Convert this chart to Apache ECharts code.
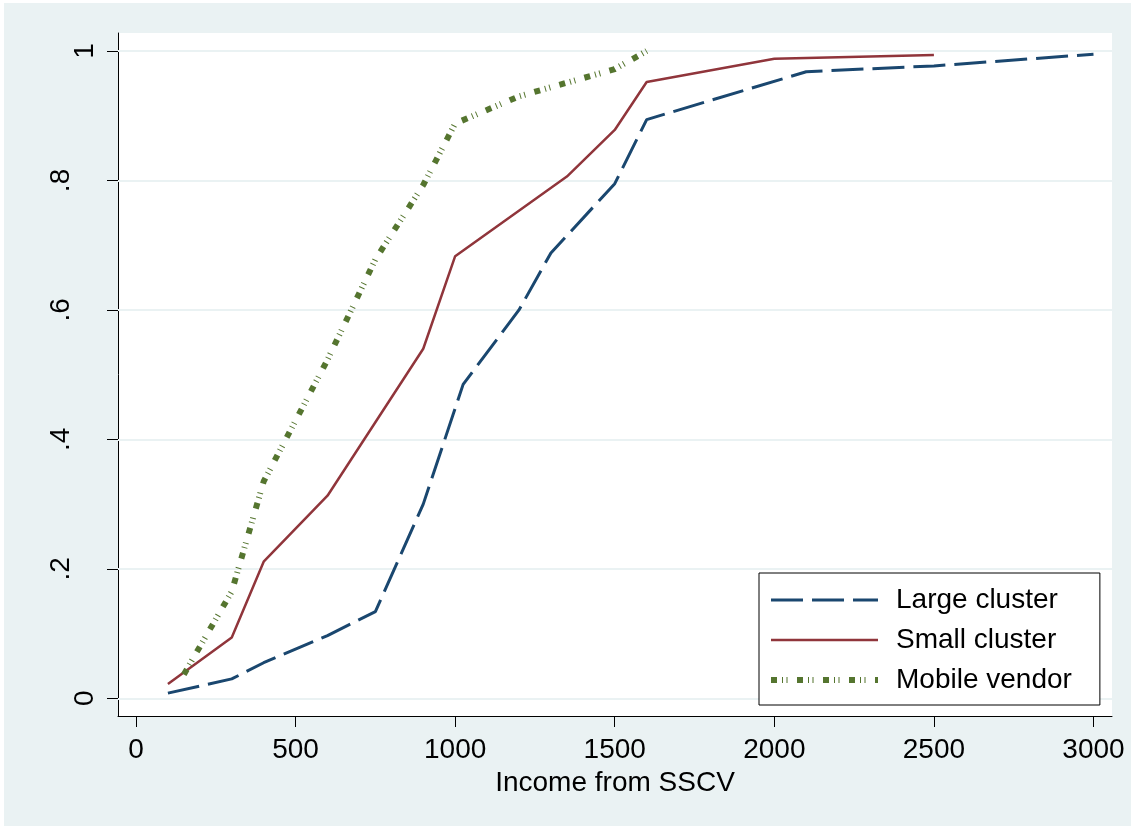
<!DOCTYPE html>
<html>
<head>
<meta charset="utf-8">
<script src="https://cdn.jsdelivr.net/npm/echarts@6/dist/echarts.min.js"></script>
<style>html,body{margin:0;padding:0;background:#fff}#c{width:1131px;height:826px}</style>
</head>
<body>
<div id="c"></div>
<script>
// ---- data ----
const seriesNames = ['Large cluster', 'Small cluster', 'Mobile vendor'];
const largeX = [100, 300, 400, 600, 750, 900, 1025, 1200, 1300, 1500, 1600, 2100, 2500, 3000];
const largeY = [0.008, 0.030, 0.055, 0.097, 0.134, 0.300, 0.485, 0.600, 0.688, 0.795, 0.894, 0.968, 0.977, 0.995];
const smallX = [100, 300, 400, 600, 900, 1000, 1350, 1500, 1600, 2000, 2500];
const smallY = [0.022, 0.094, 0.211, 0.313, 0.540, 0.683, 0.806, 0.878, 0.952, 0.988, 0.994];
const vendorX = [150, 300, 400, 600, 750, 900, 1000, 1200, 1500, 1600];
const vendorY = [0.037, 0.165, 0.335, 0.523, 0.678, 0.793, 0.888, 0.930, 0.972, 1.000];
const xTickValues = [0, 500, 1000, 1500, 2000, 2500, 3000];
const yTickValues = [0, 0.2, 0.4, 0.6, 0.8, 1];
const yTickLabels = ['0', '.2', '.4', '.6', '.8', '1'];
const xTitle = 'Income from SSCV';

const zip = (xs, ys) => xs.map((x, i) => [x, ys[i]]);
const yLabel = v => { const i = yTickValues.findIndex(t => Math.abs(t - v) < 1e-9); return i >= 0 ? yTickLabels[i] : ''; };
const FONT = '"Liberation Sans", Arial, sans-serif';
const BG = '#EAF2F3';
const yOuter = [yTickValues[0], yTickValues[yTickValues.length - 1]];
const yInner = yTickValues.slice(1, -1);

const styles = [
  {color: '#1A476F', width: 3, type: [32, 9]},
  {color: '#90353B', width: 2.5, type: 'solid'},
  {color: '#55752F', width: 6, type: [6, 5, 1, 3.5, 1, 9.5]}
];

const chart = echarts.init(document.getElementById('c'), null, {renderer: 'canvas'});
const yCommon = {
  type: 'value', min: -0.0273, max: 1.0278, position: 'left',
  splitLine: {show: false}
};
chart.setOption({
  animation: false,
  backgroundColor: BG,
  textStyle: {fontFamily: FONT},
  graphic: [
    {type: 'rect', shape: {x: 0, y: 0, width: 1131, height: 3}, style: {fill: '#fff'}, silent: true},
    {type: 'rect', shape: {x: 0, y: 0, width: 4, height: 826}, style: {fill: '#fff'}, silent: true}
  ],
  grid: {left: 118, top: 33, width: 994, height: 683, show: true, backgroundColor: '#fff', borderWidth: 0, containLabel: false},
  xAxis: {
    type: 'value', min: -56.4, max: 3058,
    axisLine: {show: true, onZero: false, lineStyle: {color: '#000', width: 1}},
    axisTick: {show: true, length: 11, customValues: xTickValues, lineStyle: {color: '#000', width: 1}},
    axisLabel: {show: true, customValues: xTickValues, margin: 20, fontSize: 28, color: '#000', fontFamily: FONT, formatter: v => String(v)},
    splitLine: {show: false},
    name: xTitle, nameLocation: 'middle', nameGap: 42,
    nameTextStyle: {fontSize: 28, color: '#000', fontFamily: FONT}
  },
  yAxis: [
    Object.assign({}, yCommon, {
      axisLine: {show: true, onZero: false, lineStyle: {color: '#000', width: 1}},
      axisTick: {show: true, length: 11, customValues: yTickValues, lineStyle: {color: '#000', width: 1}},
      axisLabel: {show: true, customValues: yOuter, rotate: 90, margin: 19, fontSize: 28, color: '#000', fontFamily: FONT, formatter: yLabel}
    }),
    Object.assign({}, yCommon, {
      axisLine: {show: false, onZero: false},
      axisTick: {show: false},
      axisLabel: {show: true, customValues: yInner, rotate: 90, margin: 43, fontSize: 28, color: '#000', fontFamily: FONT, formatter: yLabel}
    })
  ],
  legend: {
    orient: 'vertical', left: 759, top: 573,
    padding: [13, 28, 11, 9],
    itemWidth: 107, itemHeight: 14, itemGap: 12,
    itemStyle: {opacity: 0},
    backgroundColor: '#fff', borderColor: '#000', borderWidth: 1, borderRadius: 0,
    textStyle: {fontSize: 28, color: '#000', fontFamily: FONT, padding: [0, 0, 0, 13]},
    data: seriesNames.map((n, i) => ({name: n, lineStyle: {color: styles[i].color, width: styles[i].width, type: styles[i].type}}))
  },
  series: [
    {
      type: 'line', name: '_grid', data: [], silent: true, z: 1,
      markLine: {
        silent: true, symbol: 'none', z: 1, label: {show: false},
        lineStyle: {color: BG, width: 2, type: 'solid'},
        data: yTickValues.map(v => ({yAxis: v}))
      }
    },
    {
      type: 'line', name: seriesNames[0], data: zip(largeX, largeY), symbol: 'none', z: 3,
      lineStyle: styles[0], itemStyle: {color: styles[0].color}
    },
    {
      type: 'line', name: seriesNames[1], data: zip(smallX, smallY), symbol: 'none', z: 3,
      lineStyle: styles[1], itemStyle: {color: styles[1].color}
    },
    {
      type: 'line', name: seriesNames[2], data: zip(vendorX, vendorY), symbol: 'none', z: 4,
      lineStyle: styles[2], itemStyle: {color: styles[2].color}
    }
  ]
});
</script>
</body>
</html>
